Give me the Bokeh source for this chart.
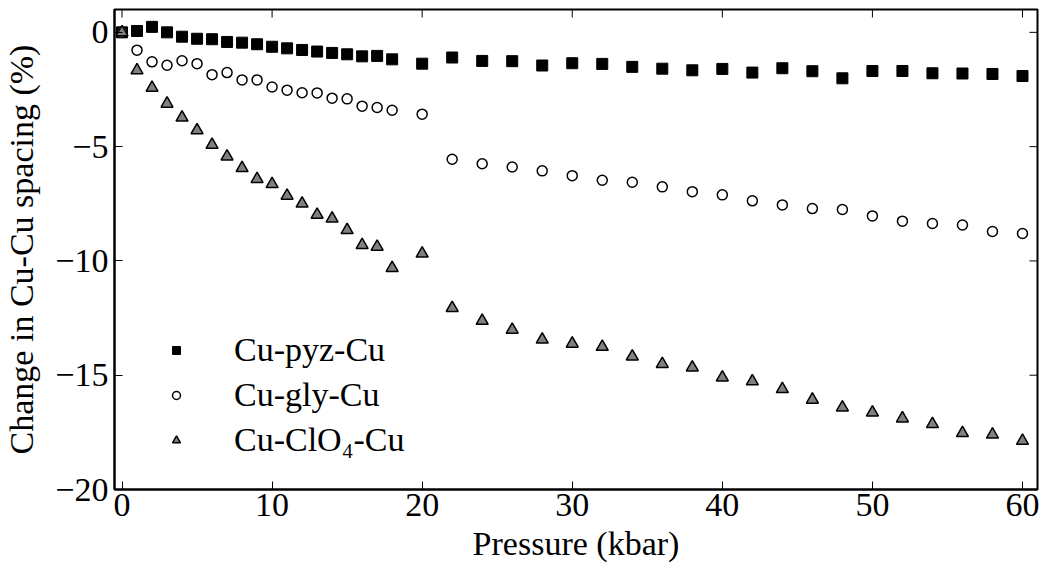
import math
from bokeh.plotting import figure
from bokeh.models import (LinearAxis, FixedTicker, Range1d, Legend, LegendItem,
                          ColumnDataSource)
from bokeh.embed import file_html
from bokeh.resources import INLINE

# Pressure (kbar)
pressure = [0, 1, 2, 3, 4, 5, 6, 7, 8, 9, 10, 11, 12, 13, 14, 15, 16, 17, 18,
            20, 22, 24, 26, 28, 30, 32, 34, 36, 38, 40, 42, 44, 46, 48, 50,
            52, 54, 56, 58, 60]

cu_pyz_cu = [0.0, 0.06, 0.24, 0.0, -0.19, -0.28, -0.30, -0.42, -0.45, -0.52,
             -0.63, -0.70, -0.77, -0.84, -0.90, -0.96, -1.05, -1.03, -1.18,
             -1.37, -1.10, -1.25, -1.26, -1.45, -1.35, -1.38, -1.51, -1.59,
             -1.66, -1.60, -1.76, -1.57, -1.70, -2.01, -1.69, -1.69, -1.79,
             -1.80, -1.82, -1.91]

cu_gly_cu = [0.0, -0.78, -1.29, -1.44, -1.24, -1.37, -1.85, -1.76, -2.08,
             -2.08, -2.39, -2.53, -2.64, -2.65, -2.88, -2.91, -3.23, -3.29,
             -3.41, -3.58, -5.55, -5.75, -5.89, -6.06, -6.27, -6.47, -6.56,
             -6.76, -6.97, -7.11, -7.37, -7.55, -7.71, -7.75, -8.03, -8.26,
             -8.36, -8.43, -8.71, -8.80]

cu_clo4_cu = [0.0, -1.66, -2.43, -3.12, -3.73, -4.28, -4.92, -5.43, -5.94,
              -6.42, -6.64, -7.15, -7.49, -7.98, -8.15, -8.65, -9.31, -9.38,
              -10.31, -9.68, -12.06, -12.62, -13.01, -13.44, -13.62, -13.76,
              -14.18, -14.51, -14.66, -15.10, -15.27, -15.61, -16.07, -16.41,
              -16.63, -16.89, -17.14, -17.53, -17.60, -17.87]

labels = ["Cu-pyz-Cu", "Cu-gly-Cu", "Cu-ClO\u2084-Cu"]
x_ticks = [0, 10, 20, 30, 40, 50, 60]
y_ticks = [-20, -15, -10, -5, 0]
y_tick_labels = ["\u221220", "\u221215", "\u221210", "\u22125", "0"]

FONT = "'Liberation Serif'"
FS = "34px"

src = ColumnDataSource(dict(p=pressure, pyz=cu_pyz_cu, gly=cu_gly_cu, clo=cu_clo4_cu))

x_range = Range1d(-0.5, 61)
y_range = Range1d(-20, 1)
p = figure(width=1043, height=566, output_backend="svg", toolbar_location=None,
           x_range=x_range, y_range=y_range,
           min_border_left=112, min_border_right=6, min_border_top=9,
           min_border_bottom=77, x_axis_location=None, y_axis_location=None)
p.grid.visible = False
p.outline_line_color = "black"
p.outline_line_width = 2
p.background_fill_color = "white"
p.border_fill_color = "white"


def style_axis(ax, ticks, label):
    ax.ticker = FixedTicker(ticks=ticks)
    ax.minor_tick_line_color = None
    ax.major_tick_in = 8
    ax.major_tick_out = 0
    ax.major_tick_line_color = "black"
    ax.major_tick_line_width = 1
    ax.axis_line_color = "black"
    ax.axis_line_width = 2
    ax.major_label_text_font = FONT
    ax.major_label_text_color = "black"
    ax.major_label_text_font_size = FS
    ax.axis_label = label
    ax.axis_label_text_font = FONT
    ax.axis_label_text_font_size = FS
    ax.axis_label_text_font_style = "normal"
    ax.axis_label_text_color = "black"


xb = LinearAxis()
style_axis(xb, x_ticks, "Pressure (kbar)")
xb.major_label_standoff = 4
xb.axis_label_standoff = 6
p.add_layout(xb, "below")

yl = LinearAxis()
style_axis(yl, y_ticks, "Change in Cu-Cu spacing (%)")
yl.major_label_overrides = {t: s for t, s in zip(y_ticks, y_tick_labels)}
yl.major_label_standoff = 6
yl.axis_label_standoff = 12
p.add_layout(yl, "left")

# inward ticks on the top and right edges of the frame
p.ray(x=x_ticks, y=[y_range.end] * len(x_ticks), length=8, length_units="screen",
      angle=-math.pi / 2, line_color="black", line_width=1)
p.ray(x=[x_range.end] * len(y_ticks), y=y_ticks, length=8, length_units="screen",
      angle=math.pi, line_color="black", line_width=1)

r1 = p.scatter("p", "pyz", source=src, marker="square", size=11,
               fill_color="black", line_color="black", line_width=1)
r2 = p.scatter("p", "gly", source=src, marker="circle", size=10,
               fill_color="white", line_color="black", line_width=1.5)
r3 = p.scatter("p", "clo", source=src, marker="triangle", size=12,
               fill_color="#808080", line_color="black", line_width=1.5)

legend = Legend(items=[LegendItem(label=labels[0], renderers=[r1]),
                       LegendItem(label=labels[1], renderers=[r2]),
                       LegendItem(label=labels[2], renderers=[r3])],
                location=(52, 30))
legend.label_text_font = FONT
legend.label_text_font_size = FS
legend.label_text_color = "black"
legend.border_line_color = None
legend.background_fill_alpha = 0
legend.padding = 0
legend.margin = 0
legend.glyph_width = 20
legend.glyph_height = 30
legend.label_height = 30
legend.label_standoff = 48
legend.spacing = 7
p.add_layout(legend, "center")

open("out.html", "w").write(file_html(p, INLINE))
